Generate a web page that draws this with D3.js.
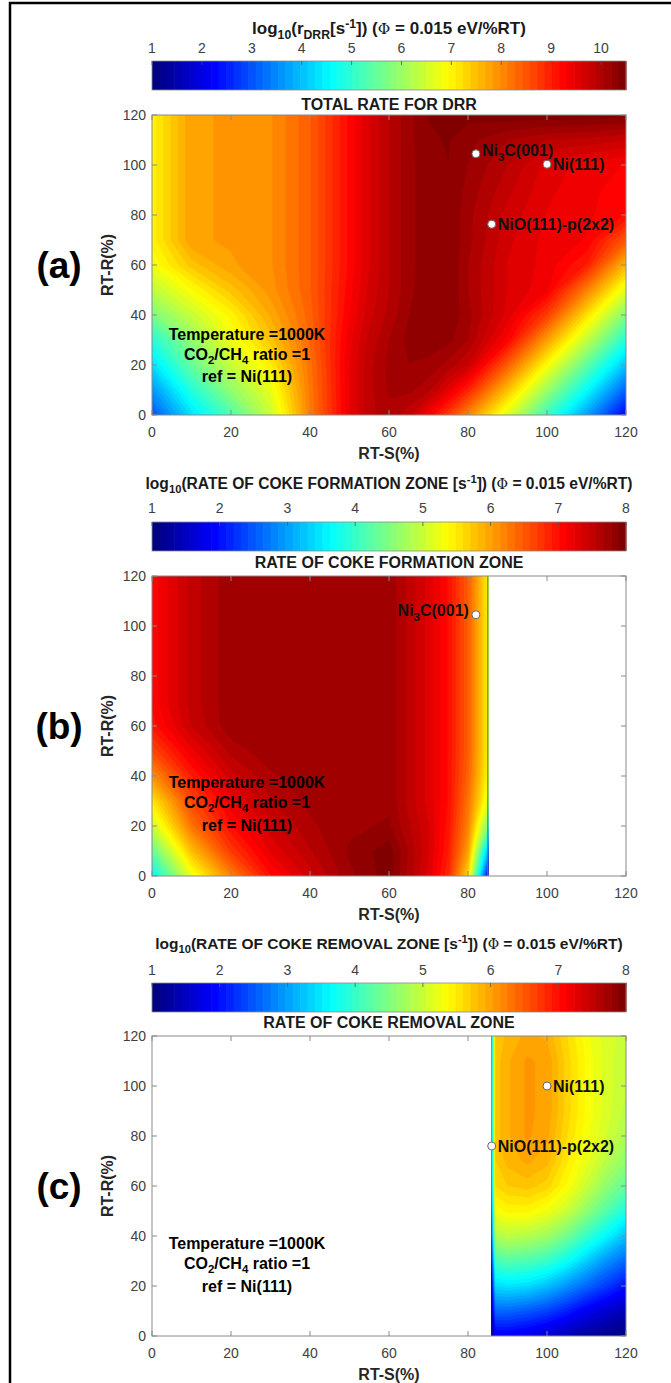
<!DOCTYPE html>
<html>
<head>
<meta charset="utf-8">
<script src="https://cdn.jsdelivr.net/npm/d3@7"></script>
<style>
  body { margin: 0; background: #fff; }
  svg { display: block; font-family: "Liberation Sans", Arial, Helvetica, sans-serif; }
</style>
</head>
<body>
<svg id="fig" width="671" height="1383"></svg>
<script>
// ---------------- data ----------------
// RT-S (%) and RT-R (%) grid for the total DRR rate, log10 values, rows from RT-R = 0 upward
const sDRR = [0, 10, 20, 30, 40, 50, 55, 60, 65, 70, 75, 80, 90, 100, 110, 120];
const rDRR = [0, 10, 20, 30, 40, 50, 60, 70, 80, 90, 100, 110, 120];
const rateDRR = [
  [3.0, 4.3, 5.3, 6.4, 8.1, 9.45, 9.85, 10.0, 9.8, 9.3, 8.7, 8.0, 6.6, 5.1, 3.7, 2.2],
  [3.6, 4.9, 5.9, 6.7, 8.15, 9.45, 9.85, 10.08, 10.1, 9.95, 9.5, 8.95, 7.5, 6.0, 4.6, 3.1],
  [4.3, 5.5, 6.4, 7.05, 8.2, 9.45, 9.85, 10.1, 10.2, 10.15, 10.0, 9.75, 8.4, 6.9, 5.45, 4.0],
  [4.9, 5.9, 6.75, 7.45, 8.3, 9.4, 9.8, 10.05, 10.25, 10.3, 10.25, 10.05, 9.25, 7.8, 6.35, 4.9],
  [5.7, 6.4, 7.0, 7.7, 8.35, 9.3, 9.7, 9.95, 10.2, 10.35, 10.33, 10.1, 9.55, 8.7, 7.2, 5.75],
  [6.3, 6.9, 7.45, 7.9, 8.4, 9.25, 9.65, 9.9, 10.15, 10.33, 10.35, 10.05, 9.6, 9.35, 8.1, 6.65],
  [6.8, 7.45, 7.8, 7.95, 8.4, 9.2, 9.6, 9.9, 10.15, 10.3, 10.35, 10.05, 9.6, 9.4, 9.0, 7.55],
  [7.0, 7.8, 7.85, 7.95, 8.4, 9.2, 9.6, 9.9, 10.15, 10.3, 10.35, 10.1, 9.65, 9.4, 9.3, 8.45],
  [7.0, 7.8, 7.85, 7.95, 8.4, 9.2, 9.6, 9.9, 10.15, 10.3, 10.35, 10.1, 9.7, 9.45, 9.35, 9.15],
  [7.0, 7.8, 7.85, 7.95, 8.4, 9.2, 9.6, 9.9, 10.15, 10.3, 10.35, 10.15, 9.8, 9.5, 9.35, 9.25],
  [7.0, 7.8, 7.85, 7.95, 8.4, 9.2, 9.6, 9.9, 10.15, 10.3, 10.35, 10.2, 9.9, 9.55, 9.4, 9.3],
  [7.0, 7.8, 7.85, 7.95, 8.4, 9.2, 9.6, 9.9, 10.15, 10.33, 10.36, 10.25, 10.05, 9.9, 9.85, 9.75],
  [7.0, 7.8, 7.85, 7.95, 8.4, 9.2, 9.6, 9.9, 10.15, 10.36, 10.38, 10.4, 10.45, 10.45, 10.45, 10.4]
];

// coke formation zone (RT-S up to 85 %)
const sFormation = [0, 10, 20, 30, 40, 50, 60, 70, 75, 80, 85];
const rFormation = [0, 10, 20, 30, 40, 50, 60, 70, 80, 90, 100, 110, 120];
const rateFormation = [
  [3.6, 5.2, 6.2, 7.0, 7.4, 7.75, 7.95, 7.3, 6.8, 5.6, 1.9],
  [4.3, 5.8, 6.7, 7.25, 7.55, 7.8, 7.95, 7.35, 6.9, 6.0, 3.2],
  [5.0, 6.3, 7.0, 7.4, 7.65, 7.75, 7.8, 7.35, 6.95, 6.2, 4.5],
  [5.5, 6.6, 7.2, 7.55, 7.7, 7.75, 7.75, 7.3, 7.0, 6.3, 5.2],
  [6.1, 6.9, 7.4, 7.65, 7.75, 7.75, 7.75, 7.3, 7.0, 6.4, 5.4],
  [6.6, 7.2, 7.6, 7.75, 7.75, 7.75, 7.75, 7.3, 7.0, 6.45, 5.45],
  [6.95, 7.45, 7.75, 7.75, 7.75, 7.75, 7.75, 7.3, 7.0, 6.45, 5.45],
  [7.05, 7.5, 7.75, 7.75, 7.75, 7.75, 7.75, 7.3, 7.0, 6.45, 5.45],
  [7.05, 7.5, 7.75, 7.75, 7.75, 7.75, 7.75, 7.3, 7.0, 6.45, 5.45],
  [7.05, 7.5, 7.75, 7.75, 7.75, 7.75, 7.75, 7.3, 7.0, 6.45, 5.45],
  [7.05, 7.5, 7.75, 7.75, 7.75, 7.75, 7.75, 7.3, 7.0, 6.45, 5.45],
  [7.05, 7.5, 7.75, 7.75, 7.75, 7.75, 7.75, 7.3, 7.0, 6.45, 5.45],
  [7.05, 7.5, 7.75, 7.75, 7.75, 7.75, 7.75, 7.3, 7.0, 6.45, 5.45]
];

// coke removal zone (RT-S from 86 %)
const sRemoval = [86, 87, 90, 95, 100, 105, 110, 115, 120];
const rRemoval = [0, 10, 20, 30, 40, 50, 60, 70, 80, 90, 100, 110, 120];
const rateRemoval = [
  [1.2, 1.8, 1.8, 1.7, 1.55, 1.4, 1.25, 1.15, 1.05],
  [1.4, 2.6, 2.6, 2.5, 2.35, 2.1, 1.8, 1.6, 1.4],
  [1.7, 3.4, 3.45, 3.4, 3.2, 2.9, 2.6, 2.3, 2.0],
  [2.0, 4.1, 4.2, 4.15, 4.0, 3.7, 3.3, 2.9, 2.6],
  [2.3, 4.8, 4.9, 4.85, 4.7, 4.4, 4.0, 3.6, 3.2],
  [2.5, 5.3, 5.4, 5.4, 5.25, 5.0, 4.6, 4.2, 3.8],
  [2.7, 5.6, 5.7, 5.75, 5.65, 5.35, 5.0, 4.6, 4.3],
  [2.8, 5.7, 5.85, 5.95, 5.85, 5.5, 5.2, 4.9, 4.6],
  [2.9, 5.75, 5.9, 6.05, 5.95, 5.6, 5.3, 5.05, 4.8],
  [3.0, 5.75, 5.9, 6.05, 6.0, 5.65, 5.35, 5.1, 4.9],
  [3.0, 5.75, 5.9, 6.05, 6.0, 5.65, 5.35, 5.1, 4.95],
  [3.0, 5.75, 5.9, 6.05, 6.0, 5.65, 5.35, 5.1, 4.95],
  [3.0, 5.7, 5.85, 5.95, 5.9, 5.6, 5.3, 5.1, 5.0]
];

// axis and colorbar ticks
const axisTicks = [0, 20, 40, 60, 80, 100, 120];
const ticksDRR = [1, 2, 3, 4, 5, 6, 7, 8, 9, 10];
const ticksZone = [1, 2, 3, 4, 5, 6, 7, 8];

// catalyst surfaces (RT-S %, RT-R %)
const surfacesDRR = [
  { name: ["Ni", "3", "C(001)"], s: 82, r: 104.5, side: "right", dy: -3 },
  { name: ["Ni(111)"], s: 100, r: 100.3, side: "right", dy: 0 },
  { name: ["NiO(111)-p(2x2)"], s: 86, r: 76.3, side: "right", dy: 0 }
];
const surfacesFormation = [
  { name: ["Ni", "3", "C(001)"], s: 82, r: 104.5, side: "left", dy: -4 }
];
const surfacesRemoval = [
  { name: ["Ni(111)"], s: 100, r: 100, side: "right", dy: 0 },
  { name: ["NiO(111)-p(2x2)"], s: 86, r: 76, side: "right", dy: 0 }
];

// ---------------- drawing ----------------
const svg = d3.select("#fig");
const FONT_BOLD = 700;
const X0 = 152, X1 = 626, PLOT_H = 300;

// MATLAB-style jet colormap with 64 entries
const jetScale = d3.scaleLinear()
  .domain([0, 1 / 8, 3 / 8, 5 / 8, 7 / 8, 1])
  .range(["#000080", "#0000ff", "#00ffff", "#ffff00", "#ff0000", "#800000"])
  .interpolate(d3.interpolateRgb);
const NCOL = 64;
const jetIndex = k => jetScale(k / (NCOL - 1));
function colorFor(v, lo, hi) {
  let k = Math.floor((v - lo) / (hi - lo) * NCOL + 1e-6);
  k = Math.max(0, Math.min(NCOL - 1, k));
  return jetIndex(k);
}

// outer frame
svg.append("rect").attr("x", 10).attr("y", 3).attr("width", 720).attr("height", 1420)
  .attr("fill", "none").attr("stroke", "#000").attr("stroke-width", 2.5);

const panels = [
  {
    label: "(a)", s: sDRR, r: rDRR, z: rateDRR, lo: 1, hi: 10.5, cbTicks: ticksDRR,
    titleY: 28, cbTickY: 48, cbTop: 61, cbBot: 90, subY: 104, plotTop: 115,
    title: [["log"], ["10", "sub"], ["(r"], ["DRR", "sub"], ["[s"], ["-1", "sup"], ["]) ("], ["\u03A6", "phi"], [" = 0.015 eV/%RT)"]],
    titleSize: 17,
    subtitle: "TOTAL RATE FOR DRR", surfaces: surfacesDRR, textY: [335, 355, 377], edgeLine: null
  },
  {
    label: "(b)", s: sFormation, r: rFormation, z: rateFormation, lo: 1, hi: 8, cbTicks: ticksZone,
    titleY: 483, cbTickY: 508, cbTop: 522, cbBot: 551, subY: 562, plotTop: 576,
    title: [["log"], ["10", "sub"], ["(RATE OF COKE FORMATION ZONE [s"], ["-1", "sup"], ["]) ("], ["\u03A6", "phi"], [" = 0.015 eV/%RT)"]],
    titleSize: 15.6,
    subtitle: "RATE OF COKE FORMATION ZONE", surfaces: surfacesFormation, textY: [783, 803, 826], edgeLine: 85
  },
  {
    label: "(c)", s: sRemoval, r: rRemoval, z: rateRemoval, lo: 1, hi: 8, cbTicks: ticksZone,
    titleY: 943, cbTickY: 970, cbTop: 983, cbBot: 1012, subY: 1022, plotTop: 1036,
    title: [["log"], ["10", "sub"], ["(RATE OF COKE REMOVAL ZONE [s"], ["-1", "sup"], ["]) ("], ["\u03A6", "phi"], [" = 0.015 eV/%RT)"]],
    titleSize: 15.5,
    subtitle: "RATE OF COKE REMOVAL ZONE", surfaces: surfacesRemoval, textY: [1244, 1264, 1287], edgeLine: null
  }
];

function richText(sel, parts, size) {
  let shift = 0;
  parts.forEach(([txt, kind]) => {
    const t = sel.append("tspan").text(txt);
    let target = 0;
    if (kind === "sub") { target = size * 0.27; t.attr("font-size", size * 0.72); }
    else if (kind === "sup") { target = -size * 0.38; t.attr("font-size", size * 0.72); }
    else if (kind === "phi") { t.attr("font-weight", 400).attr("font-family", "'DejaVu Serif', serif").attr("font-size", size * 0.9); }
    t.attr("dy", target - shift);
    shift = target;
  });
}

panels.forEach((p, pi) => {
  const g = svg.append("g");
  const x = d3.scaleLinear().domain([0, 120]).range([X0, X1]);
  const y = d3.scaleLinear().domain([0, 120]).range([p.plotTop + PLOT_H, p.plotTop]);
  const cx = d3.scaleLinear().domain([p.lo, p.hi]).range([X0, X1]);

  // colorbar title
  const tt = g.append("text").attr("x", (X0 + X1) / 2).attr("y", p.titleY + 6)
    .attr("text-anchor", "middle").attr("font-weight", FONT_BOLD)
    .attr("font-size", p.titleSize).attr("fill", "#1a1a1a");
  richText(tt, p.title, p.titleSize);

  // colorbar
  const cb = g.append("g");
  d3.range(NCOL).forEach(k => {
    const v0 = p.lo + k * (p.hi - p.lo) / NCOL, v1 = p.lo + (k + 1) * (p.hi - p.lo) / NCOL;
    cb.append("rect").attr("x", cx(v0)).attr("y", p.cbTop)
      .attr("width", cx(v1) - cx(v0) + 0.6).attr("height", p.cbBot - p.cbTop)
      .attr("fill", jetIndex(k));
  });
  cb.append("rect").attr("x", X0).attr("y", p.cbTop).attr("width", X1 - X0).attr("height", p.cbBot - p.cbTop)
    .attr("fill", "none").attr("stroke", "#8c8c8c").attr("stroke-width", 0.8);
  p.cbTicks.forEach(t => {
    cb.append("line").attr("x1", cx(t)).attr("x2", cx(t)).attr("y1", p.cbTop).attr("y2", p.cbTop + 4)
      .attr("stroke", "#555").attr("stroke-width", 0.8);
    cb.append("text").attr("x", cx(t)).attr("y", p.cbTickY + 5).attr("text-anchor", "middle")
      .attr("font-size", 14).attr("fill", "#404040").text(t);
  });

  // subtitle
  g.append("text").attr("x", (X0 + X1) / 2).attr("y", p.subY + 6).attr("text-anchor", "middle")
    .attr("font-weight", FONT_BOLD).attr("font-size", 16).attr("fill", "#1a1a1a").text(p.subtitle);

  // filled contours
  const nx = p.s.length, ny = p.r.length;
  const flat = [];
  for (let j = 0; j < ny; j++) for (let i = 0; i < nx; i++) flat.push(p.z[j][i]);
  const gx = d3.scaleLinear().domain(p.s.map((_, i) => i + 0.5)).range(p.s).clamp(true);
  const gy = d3.scaleLinear().domain(p.r.map((_, j) => j + 0.5)).range(p.r).clamp(true);
  const proj = d3.geoTransform({
    point(px, py) { this.stream.point(x(gx(px)), y(gy(py))); }
  });
  const path = d3.geoPath(proj);
  const levels = d3.range(NCOL).map(k => p.lo + k * (p.hi - p.lo) / NCOL);
  const bands = d3.contours().size([nx, ny]).thresholds(levels)(flat);
  const clipId = "clip" + pi;
  g.append("clipPath").attr("id", clipId).append("rect")
    .attr("x", X0).attr("y", p.plotTop).attr("width", X1 - X0).attr("height", PLOT_H);
  g.append("g").attr("clip-path", `url(#${clipId})`)
    .selectAll("path").data(bands).join("path")
    .attr("d", path)
    .attr("fill", d => colorFor(d.value, p.lo, p.hi))
    .attr("stroke", d => colorFor(d.value, p.lo, p.hi))
    .attr("stroke-width", 0.6);

  if (p.edgeLine !== null) {
    g.append("line").attr("x1", x(p.edgeLine)).attr("x2", x(p.edgeLine))
      .attr("y1", p.plotTop).attr("y2", p.plotTop + PLOT_H)
      .attr("stroke", "#707070").attr("stroke-width", 1);
  }

  // axes box and inward ticks
  const axisColor = "#8a8a8a";
  g.append("rect").attr("x", X0).attr("y", p.plotTop).attr("width", X1 - X0).attr("height", PLOT_H)
    .attr("fill", "none").attr("stroke", axisColor).attr("stroke-width", 1);
  const tickLen = 5;
  axisTicks.forEach(t => {
    g.append("line").attr("x1", x(t)).attr("x2", x(t)).attr("y1", p.plotTop + PLOT_H).attr("y2", p.plotTop + PLOT_H - tickLen).attr("stroke", axisColor);
    g.append("line").attr("x1", x(t)).attr("x2", x(t)).attr("y1", p.plotTop).attr("y2", p.plotTop + tickLen).attr("stroke", axisColor);
    g.append("line").attr("x1", X0).attr("x2", X0 + tickLen).attr("y1", y(t)).attr("y2", y(t)).attr("stroke", axisColor);
    g.append("line").attr("x1", X1).attr("x2", X1 - tickLen).attr("y1", y(t)).attr("y2", y(t)).attr("stroke", axisColor);
    g.append("text").attr("x", x(t)).attr("y", p.plotTop + PLOT_H + 22).attr("text-anchor", "middle")
      .attr("font-size", 14).attr("fill", "#404040").text(t);
    g.append("text").attr("x", X0 - 6).attr("y", y(t) + 5).attr("text-anchor", "end")
      .attr("font-size", 14).attr("fill", "#404040").text(t);
  });

  // axis titles
  g.append("text").attr("x", (X0 + X1) / 2).attr("y", p.plotTop + PLOT_H + 44).attr("text-anchor", "middle")
    .attr("font-weight", FONT_BOLD).attr("font-size", 16).attr("fill", "#262626").text("RT-S(%)");
  g.append("text").attr("transform", `translate(113,${p.plotTop + PLOT_H / 2}) rotate(-90)`)
    .attr("text-anchor", "middle").attr("font-weight", FONT_BOLD).attr("font-size", 16)
    .attr("fill", "#262626").text("RT-R(%)");

  // panel letter
  g.append("text").attr("x", 59).attr("y", p.plotTop + PLOT_H / 2 + 13).attr("text-anchor", "middle")
    .attr("font-weight", FONT_BOLD).attr("font-size", 37).attr("fill", "#000").text(p.label);

  // condition note
  const noteX = 247;
  g.append("text").attr("x", noteX).attr("y", p.textY[0] + 5).attr("text-anchor", "middle")
    .attr("font-weight", FONT_BOLD).attr("font-size", 16).attr("fill", "#000").text("Temperature =1000K");
  const n2 = g.append("text").attr("x", noteX).attr("y", p.textY[1] + 5).attr("text-anchor", "middle")
    .attr("font-weight", FONT_BOLD).attr("font-size", 16).attr("fill", "#000");
  richText(n2, [["CO"], ["2", "sub"], ["/CH"], ["4", "sub"], [" ratio =1"]], 16);
  g.append("text").attr("x", noteX).attr("y", p.textY[2] + 5).attr("text-anchor", "middle")
    .attr("font-weight", FONT_BOLD).attr("font-size", 16).attr("fill", "#000").text("ref = Ni(111)");

  // surfaces
  p.surfaces.forEach(d => {
    const px = x(d.s), py = y(d.r);
    g.append("circle").attr("cx", px).attr("cy", py).attr("r", 4)
      .attr("fill", "#fff").attr("stroke", "#666").attr("stroke-width", 1);
    const lt = g.append("text")
      .attr("x", d.side === "right" ? px + 6 : px - 7)
      .attr("y", py + 5.5 + d.dy)
      .attr("text-anchor", d.side === "right" ? "start" : "end")
      .attr("font-weight", FONT_BOLD).attr("font-size", 16).attr("fill", "#111");
    if (d.name.length === 3) richText(lt, [[d.name[0]], [d.name[1], "sub"], [d.name[2]]], 16);
    else lt.text(d.name[0]);
  });
});
</script>
</body>
</html>
